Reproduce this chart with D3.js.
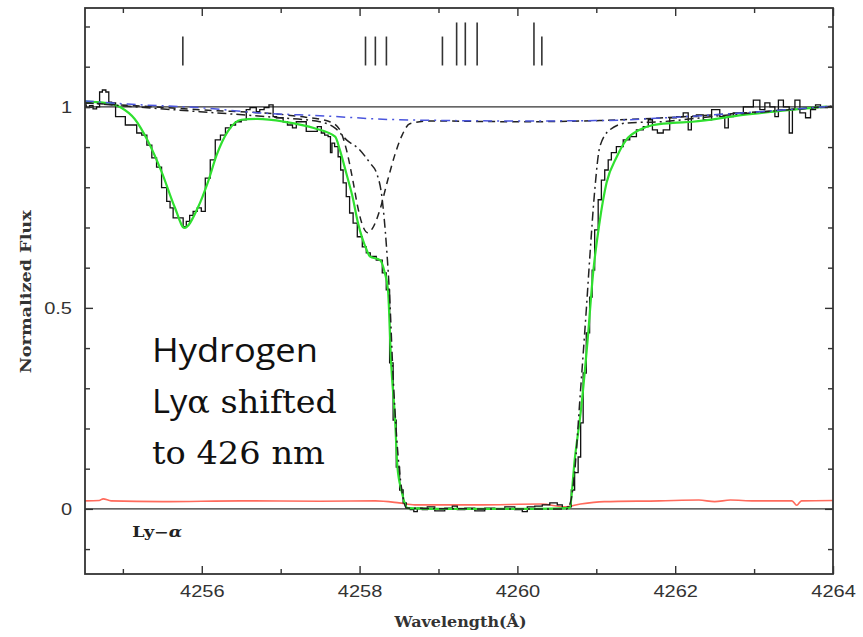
<!DOCTYPE html>
<html>
<head>
<meta charset="utf-8">
<script src="https://cdn.jsdelivr.net/npm/d3@7"></script>
<style>
body { margin: 0; background: #fff; }
svg { display: block; }
</style>
</head>
<body>
<svg width="863" height="637"></svg>
<script>
// ---- data (wavelength in Angstrom, normalized flux) ----

// observed spectrum (step line)
var obsWave = [4254.517, 4254.555, 4254.600, 4254.644, 4254.690, 4254.720, 4254.760, 4254.809, 4254.834, 4254.880,
  4254.935, 4255.000, 4255.062, 4255.151, 4255.200, 4255.278, 4255.330, 4255.404, 4255.450, 4255.531,
  4255.580, 4255.616, 4255.658, 4255.700, 4255.743, 4255.785, 4255.823, 4255.870, 4255.911, 4255.975,
  4256.013, 4256.076, 4256.139, 4256.203, 4256.270, 4256.330, 4256.400, 4256.456, 4256.545, 4256.583,
  4256.640, 4256.672, 4256.710, 4256.760, 4256.820, 4256.883, 4256.925, 4256.970, 4257.010, 4257.052,
  4257.120, 4257.179, 4257.217, 4257.260, 4257.305, 4257.343, 4257.432, 4257.496, 4257.534, 4257.580,
  4257.622, 4257.640, 4257.660, 4257.707, 4257.749, 4257.771, 4257.812, 4257.850, 4257.897, 4257.939,
  4258.003, 4258.066, 4258.104, 4258.167, 4258.256, 4258.319, 4258.357, 4258.404, 4258.446, 4258.484,
  4258.531, 4258.573, 4258.611, 4258.674, 4258.700, 4258.763, 4258.826, 4258.890, 4259.016, 4259.143,
  4259.207, 4259.270, 4259.397, 4259.523, 4259.650, 4259.777, 4259.904, 4260.030, 4260.094, 4260.157,
  4260.284, 4260.347, 4260.474, 4260.537, 4260.601, 4260.664, 4260.702, 4260.749, 4260.791, 4260.813,
  4260.854, 4260.892, 4260.939, 4260.956, 4261.003, 4261.045, 4261.084, 4261.130, 4261.172, 4261.210,
  4261.299, 4261.384, 4261.464, 4261.553, 4261.638, 4261.680, 4261.743, 4261.806, 4261.891, 4261.970,
  4262.059, 4262.144, 4262.186, 4262.224, 4262.313, 4262.398, 4262.525, 4262.605, 4262.652, 4262.694,
  4262.779, 4262.948, 4263.033, 4263.113, 4263.160, 4263.240, 4263.287, 4263.329, 4263.414, 4263.477,
  4263.494, 4263.541, 4263.620, 4263.684, 4263.747, 4263.810, 4263.873, 4263.937];
var obsFlux = [1.005, 0.998, 1.003, 0.995, 1.000, 1.037, 1.042, 1.037, 1.012, 1.010,
  0.976, 0.976, 0.955, 0.955, 0.935, 0.930, 0.905, 0.873, 0.850, 0.799,
  0.765, 0.749, 0.724, 0.724, 0.724, 0.702, 0.715, 0.730, 0.740, 0.749,
  0.740, 0.823, 0.868, 0.918, 0.930, 0.948, 0.955, 0.963, 0.968, 0.993,
  0.998, 0.998, 0.988, 0.993, 0.998, 1.005, 0.976, 0.973, 0.973, 0.963,
  0.955, 0.948, 0.963, 0.963, 0.963, 0.939, 0.939, 0.951, 0.935, 0.930,
  0.926, 0.886, 0.910, 0.901, 0.876, 0.843, 0.811, 0.777, 0.736, 0.711,
  0.677, 0.652, 0.637, 0.628, 0.619, 0.587, 0.545, 0.363, 0.221, 0.104,
  0.047, 0.015, 0.002, -0.002, -0.007, 0.002, -0.002, 0.005, -0.005, 0.002,
  0.007, -0.002, 0.002, -0.005, 0.002, 0.000, 0.005, -0.002, -0.007, 0.005,
  0.007, 0.010, 0.015, 0.010, 0.002, 0.005, 0.047, 0.090, 0.129, 0.214,
  0.338, 0.438, 0.527, 0.594, 0.694, 0.769, 0.818, 0.843, 0.868, 0.886,
  0.901, 0.918, 0.926, 0.943, 0.951, 0.968, 0.943, 0.935, 0.943, 0.973,
  0.976, 0.985, 0.943, 0.976, 0.980, 0.968, 0.993, 0.976, 0.948, 0.976,
  0.985, 1.000, 1.017, 0.993, 1.010, 1.000, 0.976, 1.017, 1.000, 0.935,
  0.993, 1.017, 0.985, 0.973, 0.993, 1.005, 0.998, 0.998];

// total model fit (green)
var fitWave = [4254.517, 4254.770, 4254.980, 4255.150, 4255.320, 4255.490, 4255.660, 4255.780, 4255.950, 4256.080,
  4256.190, 4256.330, 4256.500, 4256.710, 4257.050, 4257.430, 4257.690, 4257.750, 4257.830, 4257.910,
  4257.980, 4258.090, 4258.130, 4258.260, 4258.320, 4258.360, 4258.400, 4258.450, 4258.480, 4258.530,
  4258.610, 4259.000, 4259.600, 4260.200, 4260.660, 4260.730, 4260.810, 4260.890, 4260.960, 4261.040,
  4261.130, 4261.260, 4261.380, 4261.550, 4261.720, 4261.970, 4262.220, 4262.860, 4263.490, 4263.920];
var fitFlux = [1.013, 1.010, 0.998, 0.970, 0.914, 0.839, 0.749, 0.699, 0.749, 0.814,
  0.881, 0.939, 0.968, 0.970, 0.963, 0.947, 0.926, 0.893, 0.836, 0.777,
  0.711, 0.644, 0.628, 0.619, 0.587, 0.545, 0.363, 0.221, 0.104, 0.047,
  0.002, 0.000, 0.000, 0.000, 0.002, 0.129, 0.254, 0.420, 0.587, 0.711,
  0.811, 0.876, 0.918, 0.943, 0.955, 0.960, 0.963, 0.980, 0.993, 1.001];

// continuum (blue dash-dot)
var contWave = [4254.517, 4255.062, 4255.975, 4256.735, 4257.496, 4258.510, 4260.030, 4261.045, 4262.059, 4263.072, 4264.000];
var contFlux = [1.015, 1.007, 0.998, 0.985, 0.978, 0.968, 0.965, 0.966, 0.975, 0.988, 1.002];

// component at 4258.1 (dashed)
var compAWave = [4254.517, 4255.975, 4257.242, 4257.622, 4257.749, 4257.834, 4257.914, 4257.977, 4258.040, 4258.104,
  4258.167, 4258.256, 4258.357, 4258.446, 4258.535, 4258.636, 4258.890, 4260.030, 4261.045, 4262.059, 4263.072, 4264.000];
var compAFlux = [1.010, 0.993, 0.976, 0.963, 0.943, 0.893, 0.818, 0.751, 0.704, 0.687,
  0.699, 0.743, 0.818, 0.880, 0.928, 0.958, 0.965, 0.963, 0.966, 0.975, 0.988, 1.002];

// saturated Ly-alpha component (dash-dot)
var compBWave = [4254.517, 4255.975, 4256.989, 4257.496, 4257.686, 4257.834, 4258.003, 4258.129, 4258.214, 4258.281,
  4258.341, 4258.383, 4258.421, 4258.472, 4258.535, 4258.598, 4259.500, 4260.626, 4260.677, 4260.728,
  4260.791, 4260.876, 4260.918, 4260.981, 4261.045, 4261.172, 4261.384, 4261.806, 4262.567, 4263.579, 4264.000];
var compBFlux = [1.010, 0.988, 0.973, 0.963, 0.948, 0.918, 0.893, 0.861, 0.836, 0.779,
  0.652, 0.520, 0.346, 0.172, 0.047, 0.002, 0.000, 0.000, 0.020, 0.097,
  0.269, 0.503, 0.627, 0.794, 0.901, 0.943, 0.960, 0.963, 0.978, 0.995, 1.002];

// error spectrum (red)
var errWave = [4254.52, 4254.70, 4254.75, 4254.85, 4255.50, 4256.50, 4257.50, 4258.20, 4258.50, 4258.70,
  4259.50, 4260.30, 4260.60, 4260.80, 4261.10, 4261.80, 4262.30, 4262.50, 4262.70, 4263.00,
  4263.48, 4263.54, 4263.60, 4264.00];
var errFlux = [0.020, 0.021, 0.025, 0.020, 0.018, 0.020, 0.019, 0.020, 0.015, 0.010,
  0.010, 0.012, 0.005, 0.012, 0.018, 0.020, 0.022, 0.018, 0.022, 0.020,
  0.020, 0.009, 0.020, 0.021];

// absorber positions marked at the top
var markWave = [4255.76, 4258.075, 4258.20, 4258.34, 4259.05, 4259.23, 4259.34, 4259.49, 4260.21, 4260.31];
var markStrong = [false, false, false, false, false, true, true, true, true, false];

// axis ticks
var xMajor = [4256, 4258, 4260, 4262, 4264];
var xMinor = [4255, 4257, 4259, 4261, 4263];
var yMajor = [0, 0.5, 1];
var yMinor = [-0.1, 0.1, 0.2, 0.3, 0.4, 0.6, 0.7, 0.8, 0.9, 1.1, 1.2];

// ---- layout ----
var svg = d3.select("svg");
var margin = {left: 85, right: 30, top: 8, bottom: 63};
var width = 863 - margin.left - margin.right,
    height = 637 - margin.top - margin.bottom;

var x = d3.scaleLinear().domain([4254.52, 4264]).range([0, width]);
var y = d3.scaleLinear().domain([-0.162, 1.246]).range([height, 0]);

var g = svg.append("g").attr("transform", "translate(" + margin.left + "," + margin.top + ")");

g.append("clipPath").attr("id", "clip")
  .append("rect").attr("width", width).attr("height", height);

function zip(a, b) { return a.map(function(v, i) { return [v, b[i]]; }); }

// stretch text horizontally like the original image
function stretch(sel, k) {
  sel.each(function() {
    var w = this.getComputedTextLength();
    d3.select(this).attr("textLength", w * k).attr("lengthAdjust", "spacingAndGlyphs");
  });
}

var plot = g.append("g").attr("clip-path", "url(#clip)");

// reference lines at 0 and 1
plot.selectAll(".ref").data([0, 1]).enter().append("line")
  .attr("x1", 0).attr("x2", width)
  .attr("y1", function(d) { return y(d); }).attr("y2", function(d) { return y(d); })
  .attr("stroke", "#333").attr("stroke-width", 1.4);

var smooth = d3.line().curve(d3.curveMonotoneX).x(function(d) { return x(d[0]); }).y(function(d) { return y(d[1]); });
var step = d3.line().curve(d3.curveStep).x(function(d) { return x(d[0]); }).y(function(d) { return y(d[1]); });

plot.append("path").datum(zip(errWave, errFlux))
  .attr("d", smooth).attr("fill", "none").attr("stroke", "#ff6a5c").attr("stroke-width", 1.6);

plot.append("path").datum(zip(obsWave, obsFlux))
  .attr("d", step).attr("fill", "none").attr("stroke", "#111").attr("stroke-width", 1.3);

plot.append("path").datum(zip(fitWave, fitFlux))
  .attr("d", smooth).attr("fill", "none").attr("stroke", "#2fe02f").attr("stroke-width", 2.2);

plot.append("path").datum(zip(compAWave, compAFlux))
  .attr("d", smooth).attr("fill", "none").attr("stroke", "#222").attr("stroke-width", 1.5)
  .attr("stroke-dasharray", "7,5");

plot.append("path").datum(zip(compBWave, compBFlux))
  .attr("d", smooth).attr("fill", "none").attr("stroke", "#222").attr("stroke-width", 1.5)
  .attr("stroke-dasharray", "9,4,2,4");

plot.append("path").datum(zip(contWave, contFlux))
  .attr("d", smooth).attr("fill", "none").attr("stroke", "#4a55dd").attr("stroke-width", 1.5)
  .attr("stroke-dasharray", "9,5,2,5");

// absorber markers
plot.selectAll(".mark").data(zip(markWave, markStrong)).enter().append("line")
  .attr("x1", function(d) { return x(d[0]); }).attr("x2", function(d) { return x(d[0]); })
  .attr("y1", y(1.103))
  .attr("y2", function(d) { return d[1] ? y(1.21) : y(1.175); })
  .attr("stroke", "#333").attr("stroke-width", 1.6);

// ---- axes ----
function styleAxis(sel) {
  sel.select(".domain").remove();
  sel.selectAll(".tick line").attr("stroke", "#333").attr("stroke-width", 1.4);
  sel.selectAll("text").style("font-family", "Liberation Sans").attr("font-size", 16).attr("fill", "#333");
}

g.append("g").attr("transform", "translate(0," + height + ")")
  .call(d3.axisBottom(x).tickValues(xMajor).tickSize(-8).tickPadding(12).tickFormat(d3.format("d")))
  .call(styleAxis);
g.append("g").attr("transform", "translate(0," + height + ")")
  .call(d3.axisBottom(x).tickValues(xMinor).tickSize(-5).tickFormat(""))
  .call(styleAxis);
g.append("g")
  .call(d3.axisTop(x).tickValues(xMajor).tickSize(-8).tickFormat(""))
  .call(styleAxis);
g.append("g")
  .call(d3.axisTop(x).tickValues(xMinor).tickSize(-5).tickFormat(""))
  .call(styleAxis);

g.append("g")
  .call(d3.axisLeft(y).tickValues(yMajor).tickSize(-8).tickPadding(13).tickFormat(function(d) { return d === 0.5 ? "0.5" : d3.format("d")(d); }))
  .call(styleAxis);
g.append("g")
  .call(d3.axisLeft(y).tickValues(yMinor).tickSize(-5).tickFormat(""))
  .call(styleAxis);
g.append("g").attr("transform", "translate(" + width + ",0)")
  .call(d3.axisRight(y).tickValues(yMajor).tickSize(-8).tickFormat(""))
  .call(styleAxis);
g.append("g").attr("transform", "translate(" + width + ",0)")
  .call(d3.axisRight(y).tickValues(yMinor).tickSize(-5).tickFormat(""))
  .call(styleAxis);

g.selectAll(".tick text").call(stretch, 1.25);

// frame
g.append("rect").attr("width", width).attr("height", height)
  .attr("fill", "none").attr("stroke", "#333").attr("stroke-width", 1.8);

// axis titles
g.append("text")
  .attr("x", x(4259.28)).attr("y", height + 53)
  .attr("text-anchor", "middle")
  .style("font-family", "DejaVu Serif").attr("font-size", 14).attr("font-weight", "bold").attr("fill", "#333")
  .attr("textLength", 132).attr("lengthAdjust", "spacingAndGlyphs")
  .text("Wavelength(Å)");

g.append("text")
  .attr("transform", "translate(" + (-margin.left + 31) + "," + (y(0.54)) + ") rotate(-90)")
  .attr("text-anchor", "middle")
  .style("font-family", "DejaVu Serif").attr("font-size", 14).attr("font-weight", "bold").attr("fill", "#333")
  .attr("textLength", 163).attr("lengthAdjust", "spacingAndGlyphs")
  .text("Normalized Flux");

var lya = g.append("text")
  .attr("x", x(4255.12)).attr("y", y(-0.07))
  .style("font-family", "DejaVu Serif").attr("font-size", 14).attr("font-weight", "bold").attr("fill", "#222")
  .attr("textLength", 50).attr("lengthAdjust", "spacingAndGlyphs");
lya.append("tspan").text("Ly\u2212");
lya.append("tspan").attr("font-style", "italic").text("\u03b1");

// annotation: each line scaled horizontally to its width in the picture
function fitLine(t, left, base, target) {
  var w = t.node().getComputedTextLength();
  t.attr("transform", "translate(" + left + "," + base + ") scale(" + (target / w) + ",1)");
}

var l1 = svg.append("text").attr("fill", "#111")
  .style("font-family", "Open Sans").attr("font-size", 32)
  .text("Hydrogen");
fitLine(l1, 152, 362, 166);

var l2 = svg.append("text").attr("fill", "#111")
  .style("font-family", "DejaVu Serif").attr("font-size", 31);
l2.append("tspan").style("font-family", "Open Sans").attr("font-size", 32).text("Ly");
l2.append("tspan").style("font-family", "DejaVu Serif").text("\u03b1 shifted");
fitLine(l2, 152, 413, 185);

var l3 = svg.append("text").attr("fill", "#111")
  .style("font-family", "DejaVu Serif").attr("font-size", 31)
  .text("to 426 nm");
fitLine(l3, 152, 464, 173);
</script>
</body>
</html>
